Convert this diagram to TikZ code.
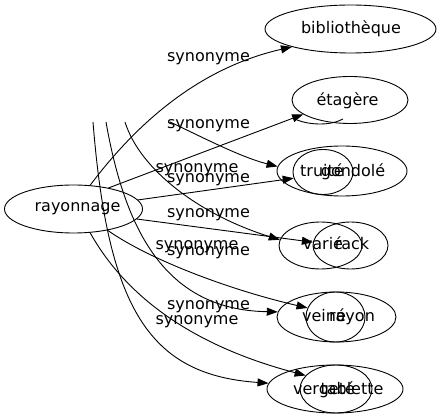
\documentclass[tikz,border=0pt]{standalone}
\usepackage{fontspec}
\setmainfont{DejaVu Sans}
\usetikzlibrary{shapes.geometric,arrows.meta}
\tikzset{
  ell/.style={draw, ellipse, inner sep=0pt, line width=0.9pt},
  word/.style={inner sep=0pt, anchor=base, font=\fontsize{16}{19}\selectfont},
  lab/.style={inner sep=0pt, anchor=base, font=\fontsize{16}{19}\selectfont},
  edge/.style={line width=0.9pt, -{Triangle[length=11pt,width=8pt]}},
  plain/.style={line width=0.9pt}
}
\begin{document}
\begin{tikzpicture}[x=1pt,y=-1pt]
\useasboundingbox (0,0) rectangle (440,419);
% ellipses
\node[ell, minimum width=138pt, minimum height=48pt] (ray) at (73.5,209) {};
\node[ell, minimum width=171pt, minimum height=48pt] (bib) at (350.5,29) {};
\node[ell, minimum width=116pt, minimum height=47pt] (eta) at (350,100) {};
\node[ell, minimum width=130pt, minimum height=50pt] (truite) at (342,171) {};
\node[ell, minimum width=60pt, minimum height=45pt] (gondole) at (323,172) {};
\node[ell, minimum width=83pt, minimum height=47pt] (varie) at (320.5,245.5) {};
\node[ell, minimum width=75pt, minimum height=47pt] (rack) at (350.5,245.5) {};
\node[ell, minimum width=119pt, minimum height=50pt] (veine) at (336.5,317) {};
\node[ell, minimum width=59pt, minimum height=50pt] (rayon) at (335.5,317) {};
\node[ell, minimum width=136pt, minimum height=48pt] (vergete) at (335,389) {};
\node[ell, minimum width=72pt, minimum height=48pt] (tablette) at (336,389) {};
% words
\node[word] (tray) at (77.5,212) {rayonnage};
\node[word] (tbib) at (351,33.5) {bibliothèque};
\node[word] (teta) at (347.5,106) {étagère};
\node[word] (ttruite) at (322,177) {truité};
\node[word] (tgondole) at (353,177) {gondolé};
\node[word] (tvarie) at (323,250) {varié};
\node[word] (track) at (352,250) {rack};
\node[word] (tveine) at (324,322) {veiné};
\node[word] (trayon) at (352,322) {rayon};
\node[word] (tvergete) at (324,394.5) {vergeté};
\node[word] (ttablette) at (352,394.5) {tablette};
% free ends
\coordinate (s1) at (170,122);
\coordinate (s2) at (125,122);
\coordinate (s3) at (106,122);
\coordinate (s4) at (93,122);
\coordinate (a1) at (297,120);
\coordinate (a2) at (343,119);
% edges
\draw[edge] (ray.55) .. controls (128,135) and (190,70) .. (bib.197);
\draw[edge] (ray.31) -- (eta.197);
\draw[edge] (s1) .. controls (200,136) and (240,157) .. (truite.176);
\draw[edge] (ray.8) -- (gondole.192);
\draw[edge] (s2) .. controls (140,170) and (200,215) .. (varie.172);
\draw[edge] (ray.351) -- (rack.175);
\draw[edge] (s3) .. controls (125,230) and (165,310) .. (veine.175);
\draw[edge] (ray.328) .. controls (150,260) and (230,290) .. (rayon.162);
\draw[edge] (s4) .. controls (108,310) and (150,375) .. (vergete.175);
\draw[edge] (ray.305) .. controls (125,295) and (190,345) .. (tablette.156);
\draw[plain] (a1) .. controls (310,125) and (330,126) .. (a2);
% labels
\node[lab] (l1) at (208.5,62) {synonyme};
\node[lab] (l2) at (208.5,129) {synonyme};
\node[lab] (l3) at (197,172.5) {synonyme};
\node[lab] (l4) at (208.5,183) {synonyme};
\node[lab] (l5) at (208.5,218) {synonyme};
\node[lab] (l6) at (197,249.5) {synonyme};
\node[lab] (l7) at (208.5,256) {synonyme};
\node[lab] (l8) at (208.5,309.5) {synonyme};
\node[lab] (l9) at (197,324.5) {synonyme};
\end{tikzpicture}
\end{document}
